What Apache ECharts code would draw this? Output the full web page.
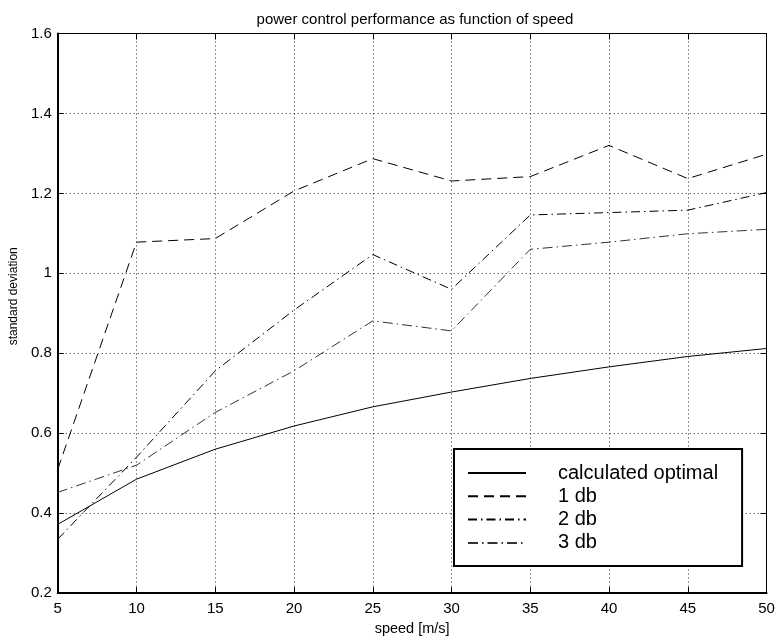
<!DOCTYPE html>
<html>
<head>
<meta charset="utf-8">
<script src="https://cdn.jsdelivr.net/npm/echarts@6/dist/echarts.min.js"></script>
<style>html,body{margin:0;padding:0;background:#fff;}#c{width:778px;height:641px;}</style>
</head>
<body>
<div id="c"></div>
<script>
var speed = [5, 10, 15, 20, 25, 30, 35, 40, 45, 50];
var calcOptimal = [0.372, 0.485, 0.560, 0.618, 0.666, 0.703, 0.737, 0.766, 0.792, 0.812];
var db1 = [0.51, 1.078, 1.087, 1.206, 1.287, 1.231, 1.242, 1.320, 1.237, 1.298];
var db2 = [0.335, 0.54, 0.756, 0.908, 1.047, 0.960, 1.146, 1.152, 1.158, 1.202];
var db3 = [0.452, 0.52, 0.652, 0.756, 0.881, 0.856, 1.060, 1.078, 1.099, 1.110];
var seriesNames = ['calculated optimal', '1 db', '2 db', '3 db'];

function pairs(ys) { return speed.map(function (x, i) { return [x, ys[i]]; }); }

var FONT = 'Liberation Sans, Arial, Helvetica, sans-serif';
var chart = echarts.init(document.getElementById('c'), null, {renderer: 'canvas'});

var gridLine = {show: true, lineStyle: {color: '#222', width: 1, type: [1, 3]}};

var option = {
  backgroundColor: '#fff',
  animation: false,
  title: {
    text: 'power control performance as function of speed',
    left: 410, top: 7, textAlign: 'center',
    textStyle: {fontFamily: FONT, fontSize: 15, fontWeight: 'normal', color: '#000'}
  },
  grid: {left: 57.5, top: 33.5, right: 11.5, bottom: 47, show: true, borderColor: '#000', borderWidth: 1, backgroundColor: 'transparent'},
  legend: {
    data: seriesNames,
    orient: 'vertical',
    left: 454, top: 449,
    padding: [14, 24, 13, 13],
    itemWidth: 58, itemHeight: 20, itemGap: 3.3,
    borderColor: '#000', borderWidth: 2,
    backgroundColor: '#fff',
    itemStyle: {opacity: 0},
    textStyle: {fontFamily: FONT, fontSize: 20, color: '#000', lineHeight: 20, padding: [0, 0, 0, 27]}
  },
  xAxis: [{
    type: 'value', min: 5, max: 50, interval: 5,
    name: 'speed [m/s]', nameLocation: 'middle', nameGap: 26,
    nameTextStyle: {fontFamily: FONT, fontSize: 14.5, color: '#000'},
    axisLine: {show: true, onZero: false, lineStyle: {color: '#000', width: 2}},
    axisTick: {show: true, inside: true, length: 6, lineStyle: {color: '#000'}},
    axisLabel: {fontFamily: FONT, fontSize: 15, color: '#000', margin: 8},
    splitLine: gridLine
  }, {
    type: 'value', min: 5, max: 50, interval: 5, position: 'top',
    axisLine: {show: true, onZero: false, lineStyle: {color: '#000', width: 1}},
    axisTick: {show: true, inside: true, length: 6, lineStyle: {color: '#000'}},
    axisLabel: {show: false}, splitLine: {show: false}
  }],
  yAxis: [{
    type: 'value', min: 0.2, max: 1.6, interval: 0.2,
    name: 'standard deviation', nameLocation: 'middle', nameGap: 28,
    nameTextStyle: {fontFamily: FONT, fontSize: 12, color: '#000', padding: [0, 0, 0, 34]},
    axisLine: {show: true, onZero: false, lineStyle: {color: '#000', width: 2}},
    axisTick: {show: true, inside: true, length: 6, lineStyle: {color: '#000'}},
    axisLabel: {fontFamily: FONT, fontSize: 15, color: '#000', margin: 6,
      formatter: function (v) { return String(+v.toFixed(1)); }},
    splitLine: gridLine
  }, {
    type: 'value', min: 0.2, max: 1.6, interval: 0.2, position: 'right',
    axisLine: {show: true, onZero: false, lineStyle: {color: '#000', width: 1}},
    axisTick: {show: true, inside: true, length: 6, lineStyle: {color: '#000'}},
    axisLabel: {show: false}, splitLine: {show: false}
  }],
  series: [
    {name: seriesNames[0], type: 'line', data: pairs(calcOptimal), symbol: 'none',
      lineStyle: {color: '#000', width: 1, type: 'solid'}, itemStyle: {color: '#000'}},
    {name: seriesNames[1], type: 'line', data: pairs(db1), symbol: 'none',
      lineStyle: {color: '#000', width: 1, type: [10, 6]}, itemStyle: {color: '#000'}},
    {name: seriesNames[2], type: 'line', data: pairs(db2), symbol: 'none',
      lineStyle: {color: '#000', width: 1, type: [9, 4, 1.5, 4]}, itemStyle: {color: '#000'}},
    {name: seriesNames[3], type: 'line', data: pairs(db3), symbol: 'none',
      lineStyle: {color: '#333', width: 1, type: [10, 4, 1.5, 4]}, itemStyle: {color: '#333'}}
  ]
};
chart.setOption(option);
</script>
</body>
</html>
